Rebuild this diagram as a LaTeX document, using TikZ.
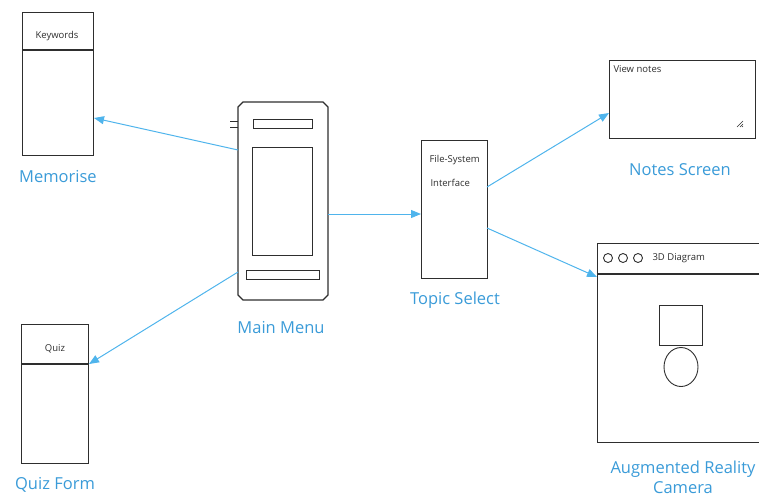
\documentclass[tikz,border=0pt]{standalone}
\usepackage{fontspec}
\setmainfont{Open Sans}
\usetikzlibrary{arrows.meta,shapes.geometric}
\definecolor{ink}{HTML}{2E2E2E}
\definecolor{linkblue}{HTML}{4FB4EC}
\definecolor{labelblue}{HTML}{3A9BD8}
\tikzset{
  sketch/.style={draw=ink, line width=1.2pt},
  thin sketch/.style={draw=ink, line width=0.9pt},
  link/.style={draw=linkblue, line width=1pt, -{Triangle[length=10pt,width=8pt]}},
  caption/.style={text=labelblue, font=\fontsize{16.5}{20}\selectfont},
  small/.style={text=ink, font=\fontsize{9.5}{11}\selectfont},
}
\begin{document}
\begin{tikzpicture}[x=1pt,y=-1pt]
\useasboundingbox (0,0) rectangle (759,496);
\clip (0,0) rectangle (759,496);

% Memorise list
\node[sketch, minimum width=71pt, minimum height=143pt, anchor=north west, inner sep=0] (mem) at (22,12) {};
\draw[sketch] (22,50) -- (93,50);
\node[small] (memhead) at (57,36) {Keywords};
\node[caption] (memlbl) at (58,177) {Memorise};
\coordinate (memin) at (94,118);

% Quiz form
\node[sketch, minimum width=67pt, minimum height=139pt, anchor=north west, inner sep=0] (quiz) at (21,324) {};
\draw[sketch] (21,364) -- (88,364);
\node[small] (quizhead) at (55,349) {Quiz};
\node[caption] (quizlbl) at (55,485) {Quiz Form};
\coordinate (quizin) at (89,364);

% Main menu phone
\draw[sketch] (243,102) -- (323,102) -- (328,107) -- (328,295) -- (323,300)
  -- (243,300) -- (238,295) -- (238,107) -- cycle;
\node[thin sketch, minimum width=59pt, minimum height=9pt, anchor=north west, inner sep=0] (topbar) at (253,119) {};
\node[thin sketch, minimum width=60pt, minimum height=108pt, anchor=north west, inner sep=0] (screen) at (252,147) {};
\node[thin sketch, minimum width=73pt, minimum height=9pt, anchor=north west, inner sep=0] (botbar) at (246,270) {};
\draw[thin sketch] (230,121) -- (238,121);
\draw[thin sketch] (230,127) -- (238,127);
\node[caption] (menulbl) at (281,328) {Main Menu};
\coordinate (menuL1) at (238,150);
\coordinate (menuL2) at (238,272);
\coordinate (menuR) at (328,214);

% Topic select
\node[sketch, minimum width=66pt, minimum height=138pt, anchor=north west, inner sep=0] (topic) at (421,140) {};
\node[small, anchor=west] (fs1) at (426,160) {File-System};
\node[small, anchor=west] (fs2) at (427,183) {Interface};
\node[caption] (topiclbl) at (455,300) {Topic Select};
\coordinate (topicin) at (421,214);
\coordinate (topicout1) at (487,187);
\coordinate (topicout2) at (487,228);

% Notes screen
\node[sketch, minimum width=146pt, minimum height=78pt, anchor=north west, inner sep=0] (notes) at (609,60) {};
\node[small, anchor=west] (notestxt) at (610,69) {View notes};
\draw[ink, line width=0.6pt] (737,127) -- (743,121) (740,127) -- (743,124) (742,127) -- (743,126);
\node[caption] (noteslbl) at (680,170) {Notes Screen};
\coordinate (notesin) at (609,113);

% Augmented reality window
\node[sketch, minimum width=170pt, minimum height=199pt, anchor=north west, inner sep=0] (ar) at (597,243) {};
\draw[sketch] (597,274) -- (767,274);
\foreach \cx [count=\i] in {608,623,638} {
  \node[thin sketch, circle, minimum size=9pt, inner sep=0] (dot\i) at (\cx,258) {};
}
\node[small, anchor=west] (artitle) at (649,258) {3D Diagram};
\node[thin sketch, minimum width=43pt, minimum height=40pt, anchor=north west, inner sep=0] (cube) at (659,305) {};
\node[thin sketch, ellipse, minimum width=34pt, minimum height=39pt, inner sep=0] (ball) at (681,367) {};
\node[caption, align=center] (arlbl) at (683,477) {Augmented Reality\\Camera};
\coordinate (arin) at (597,277);

% Connectors
\draw[link] (menuL1) -- (memin);
\draw[link] (menuL2) -- (quizin);
\draw[link] (menuR) -- (topicin);
\draw[link] (topicout1) -- (notesin);
\draw[link] (topicout2) -- (arin);
\end{tikzpicture}
\end{document}
